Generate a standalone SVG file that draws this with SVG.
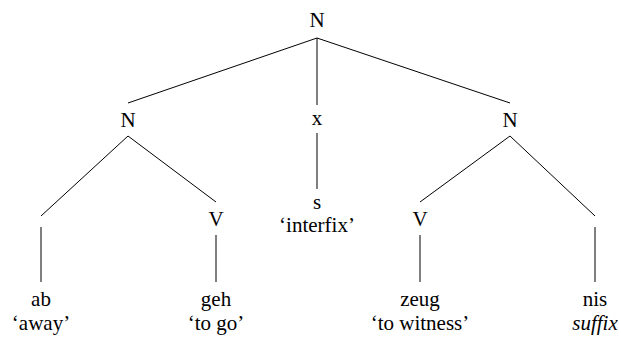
<svg xmlns="http://www.w3.org/2000/svg" width="619" height="340" viewBox="0 0 619 340">
<style>
text{font-family:"Liberation Serif","Times New Roman",serif;font-size:21px;fill:#000;text-anchor:middle}
.it{font-style:italic}
#connectors line{stroke:#000;stroke-width:1}
</style>
<rect width="619" height="340" fill="#fff"/>
<g id="connectors">
<line x1="317" y1="38" x2="128" y2="103"/>
<line x1="317" y1="38" x2="317" y2="105"/>
<line x1="317" y1="38" x2="510" y2="103"/>
<line x1="317" y1="133" x2="317" y2="189"/>
<line x1="128" y1="136" x2="41" y2="216"/>
<line x1="128" y1="136" x2="216" y2="202"/>
<line x1="510" y1="136" x2="420" y2="202"/>
<line x1="510" y1="136" x2="595" y2="216"/>
<line x1="41" y1="227" x2="41" y2="282"/>
<line x1="216" y1="235" x2="216" y2="282"/>
<line x1="420" y1="235" x2="420" y2="282"/>
<line x1="595" y1="227" x2="595" y2="282"/>
</g>
<g id="n-root"><text x="317" y="27">N</text></g>
<g id="n-left"><text x="128" y="127">N</text></g>
<g id="n-x"><text x="317" y="125">x</text></g>
<g id="n-right"><text x="510" y="127">N</text></g>
<g id="n-s"><text x="317" y="209">s</text><text x="317" y="232">‘interfix’</text></g>
<g id="n-v1"><text x="216" y="226">V</text></g>
<g id="n-v2"><text x="420" y="226">V</text></g>
<g id="n-ab"><text x="41" y="306">ab</text><text x="41" y="330">‘away’</text></g>
<g id="n-geh"><text x="216" y="306">geh</text><text x="216" y="330">‘to go’</text></g>
<g id="n-zeug"><text x="420" y="306">zeug</text><text x="420" y="330">‘to witness’</text></g>
<g id="n-nis"><text x="595" y="306">nis</text><text class="it" x="595" y="330">suffix</text></g>
</svg>
